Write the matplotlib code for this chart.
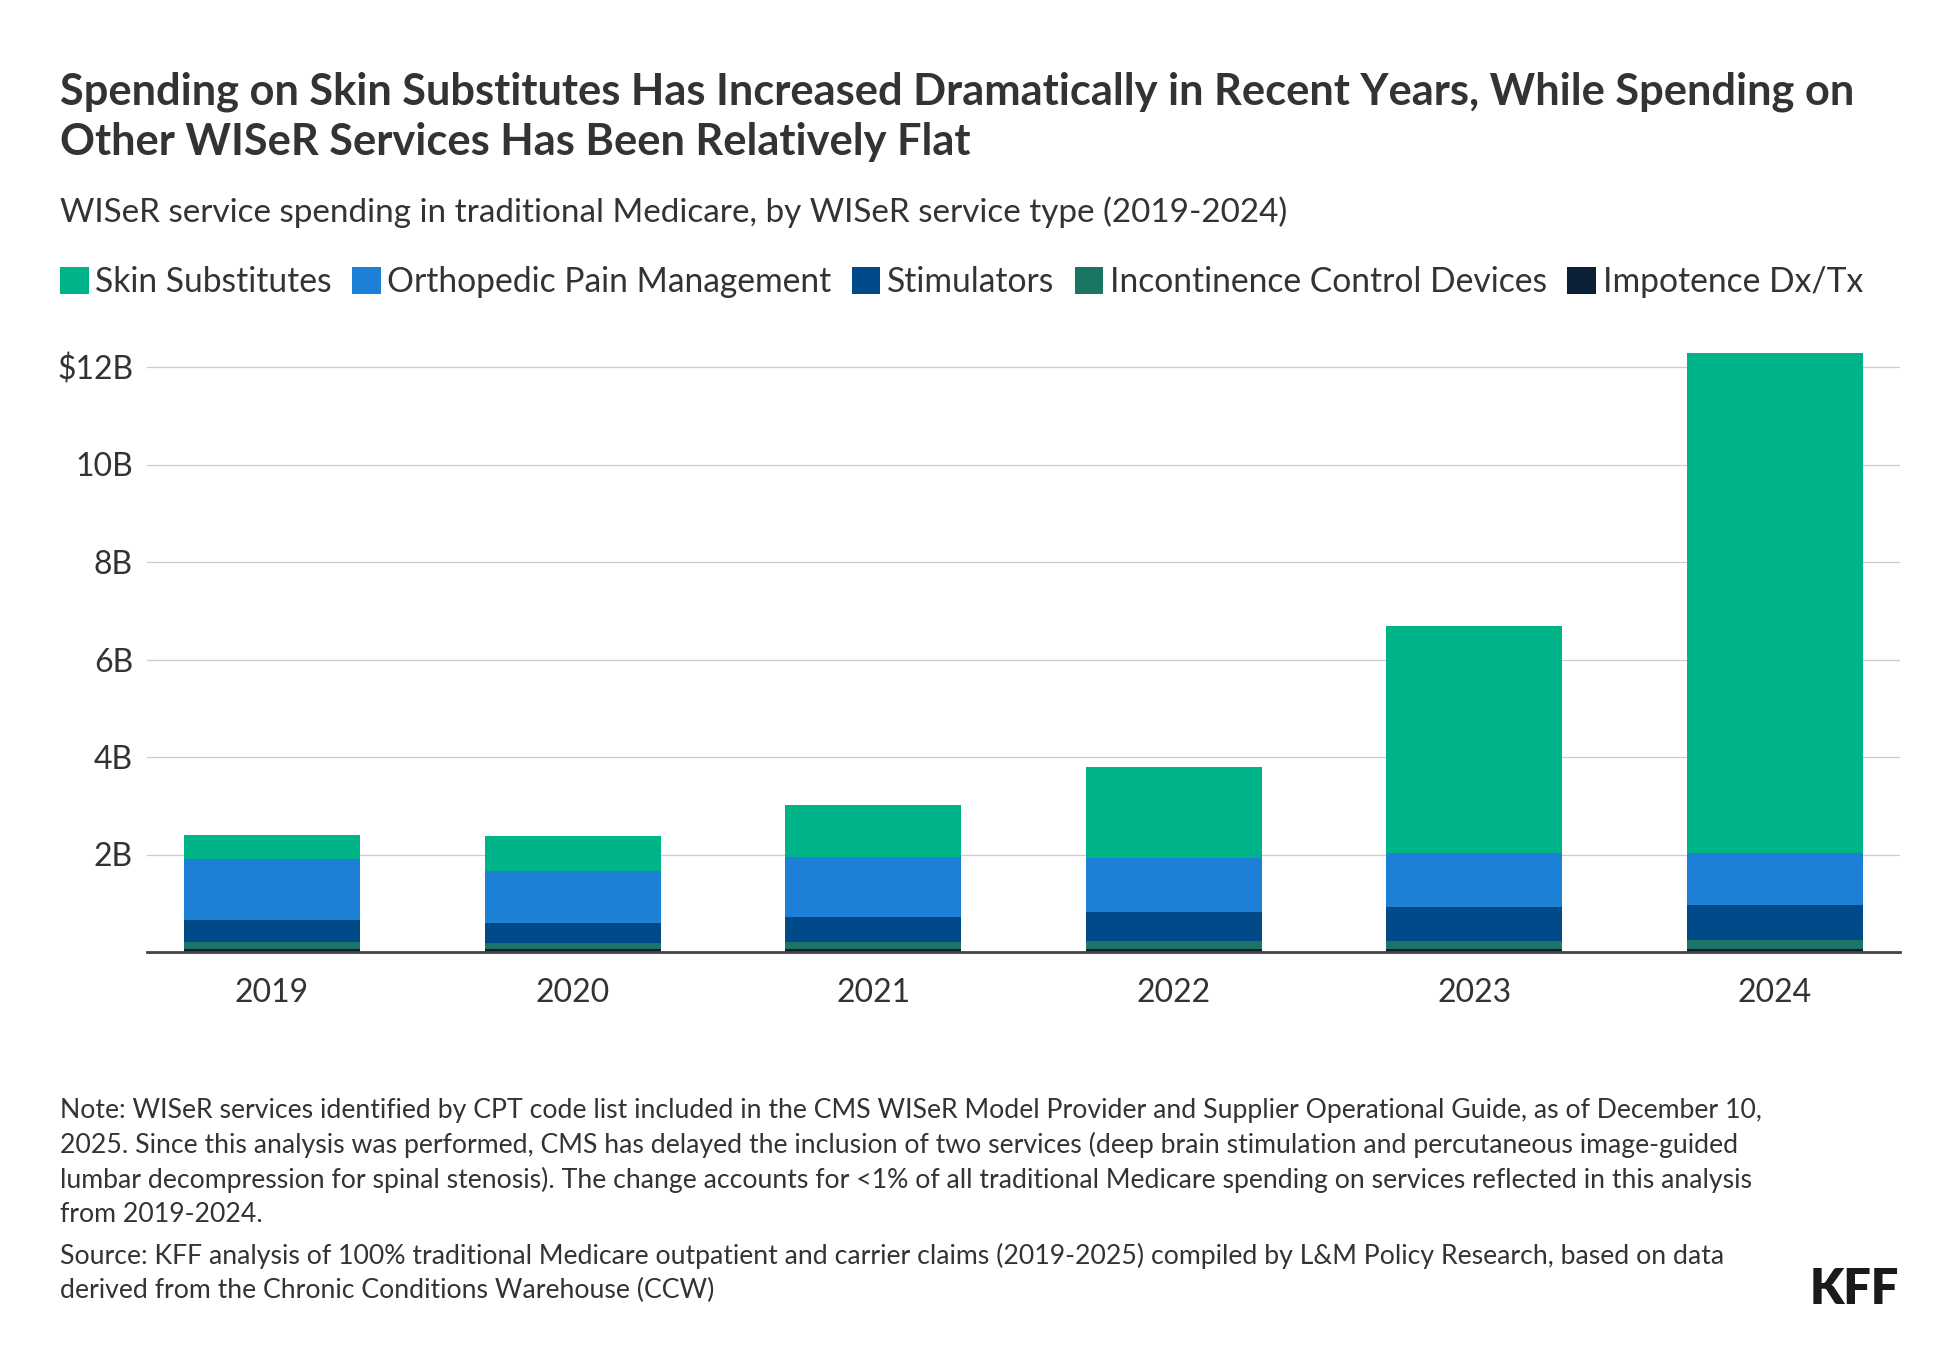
import matplotlib
matplotlib.use("Agg")
import matplotlib.pyplot as plt
from matplotlib.patches import Patch
import numpy as np

# ---------------- data ----------------
years = ["2019", "2020", "2021", "2022", "2023", "2024"]
impotence = [0.06, 0.06, 0.06, 0.06, 0.06, 0.06]
incontinence = [0.14, 0.12, 0.15, 0.17, 0.17, 0.19]
stimulators = [0.45, 0.41, 0.51, 0.59, 0.70, 0.72]
orthopedic = [1.25, 1.08, 1.22, 1.10, 1.10, 1.07]
skin_subs = [0.49, 0.70, 1.08, 1.87, 4.66, 10.25]
series_names = ["Skin Substitutes", "Orthopedic Pain Management", "Stimulators",
                "Incontinence Control Devices", "Impotence Dx/Tx"]
ytick_vals = [2, 4, 6, 8, 10, 12]
ytick_labels = ["2B", "4B", "6B", "8B", "10B", "$12B"]

title_lines = ["Spending on Skin Substitutes Has Increased Dramatically in Recent Years, While Spending on",
               "Other WISeR Services Has Been Relatively Flat"]
subtitle = "WISeR service spending in traditional Medicare, by WISeR service type (2019-2024)"
note_lines = ["Note: WISeR services identified by CPT code list included in the CMS WISeR Model Provider and Supplier Operational Guide, as of December 10,",
              "2025. Since this analysis was performed, CMS has delayed the inclusion of two services (deep brain stimulation and percutaneous image-guided",
              "lumbar decompression for spinal stenosis). The change accounts for <1% of all traditional Medicare spending on services reflected in this analysis",
              "from 2019-2024."]
source_lines = ["Source: KFF analysis of 100% traditional Medicare outpatient and carrier claims (2019-2025) compiled by L&M Policy Research, based on data",
                "derived from the Chronic Conditions Warehouse (CCW)"]

# ---------------- style ----------------
FONT = ["Lato", "DejaVu Sans"]
plt.rcParams["font.family"] = FONT
TXT = "#333333"
C_SKIN = "#00B48A"
C_ORTHO = "#1B80D6"
C_STIM = "#004A8A"
C_INC = "#1B7564"
C_IMP = "#0B2035"

W, H = 1960, 1364
fig = plt.figure(figsize=(W / 100, H / 100), dpi=100)
renderer = fig.canvas.get_renderer()


def fx(x):
    return x / W


def fy(y):
    return 1 - y / H


def fit_text(x, y, s, target_w, size=20, **kw):
    t = fig.text(fx(x), fy(y), s, fontsize=size, va="baseline", ha="left", color=TXT, **kw)
    w = t.get_window_extent(renderer).width
    t.set_fontsize(size * target_w / w)
    return t


# ---------------- axes ----------------
ax_left, ax_right = 147, 1900
y0_px = 952
px_per_b = 48.75
ymax = 12.5
top_px = y0_px - ymax * px_per_b
ax = fig.add_axes([fx(ax_left), fy(y0_px), (ax_right - ax_left) / W, (y0_px - top_px) / H])

x = np.arange(len(years))
bw = 0.586
stack = [(impotence, C_IMP), (incontinence, C_INC), (stimulators, C_STIM),
         (orthopedic, C_ORTHO), (skin_subs, C_SKIN)]
bottom = np.zeros(len(years))
for vals, col in stack:
    ax.bar(x, vals, bw, bottom=bottom, color=col, zorder=3, linewidth=0)
    bottom = bottom + np.array(vals)

ax.set_xlim(-0.416, 5.416)
ax.set_ylim(0, ymax)
ax.set_yticks(ytick_vals)
ax.set_yticklabels(ytick_labels)
ax.set_xticks(x)
ax.set_xticklabels(years)
ax.tick_params(axis="y", length=0, pad=10, labelsize=23, labelcolor=TXT)
ax.tick_params(axis="x", length=0, pad=19, labelsize=23, labelcolor=TXT)
ax.grid(axis="y", color="#cccccc", linewidth=0.9, zorder=0)
for sp in ["top", "right", "left"]:
    ax.spines[sp].set_visible(False)
ax.spines["bottom"].set_color("#444444")
ax.spines["bottom"].set_linewidth(2.0)
ax.spines["bottom"].set_zorder(5)

# ---------------- legend ----------------
handles = [Patch(facecolor=c, edgecolor="none") for c in [C_SKIN, C_ORTHO, C_STIM, C_INC, C_IMP]]
leg = fig.legend(handles, series_names, loc="upper left", bbox_to_anchor=(fx(60), fy(266)),
                 ncol=5, frameon=False, fontsize=24.2, handlelength=0.85, handleheight=0.85,
                 handletextpad=0.2, columnspacing=0.6, borderaxespad=0, borderpad=0)
for t in leg.get_texts():
    t.set_color(TXT)

# ---------------- texts ----------------
fit_text(60, 104, title_lines[0], 1793, weight="bold")
t2 = fig.text(fx(60), fy(155), title_lines[1], va="baseline", ha="left", color=TXT, weight="bold")
t2.set_fontsize(fig.texts[0].get_fontsize())
fit_text(60, 222, subtitle, 1230)

nt = fit_text(60, 1188, note_lines[2], 1694)
ns = nt.get_fontsize()
for yy, s in zip([1118, 1153, 1222], [note_lines[0], note_lines[1], note_lines[3]]):
    fig.text(fx(60), fy(yy), s, fontsize=ns, va="baseline", ha="left", color=TXT)
for yy, s in zip([1264, 1298], source_lines):
    fig.text(fx(60), fy(yy), s, fontsize=ns, va="baseline", ha="left", color=TXT)

fig.text(fx(1899), fy(1304), "KFF", fontsize=35, weight="heavy", ha="right", va="baseline",
         color="#1a1a1a")

fig.savefig("out.png", dpi=100, facecolor="white")
